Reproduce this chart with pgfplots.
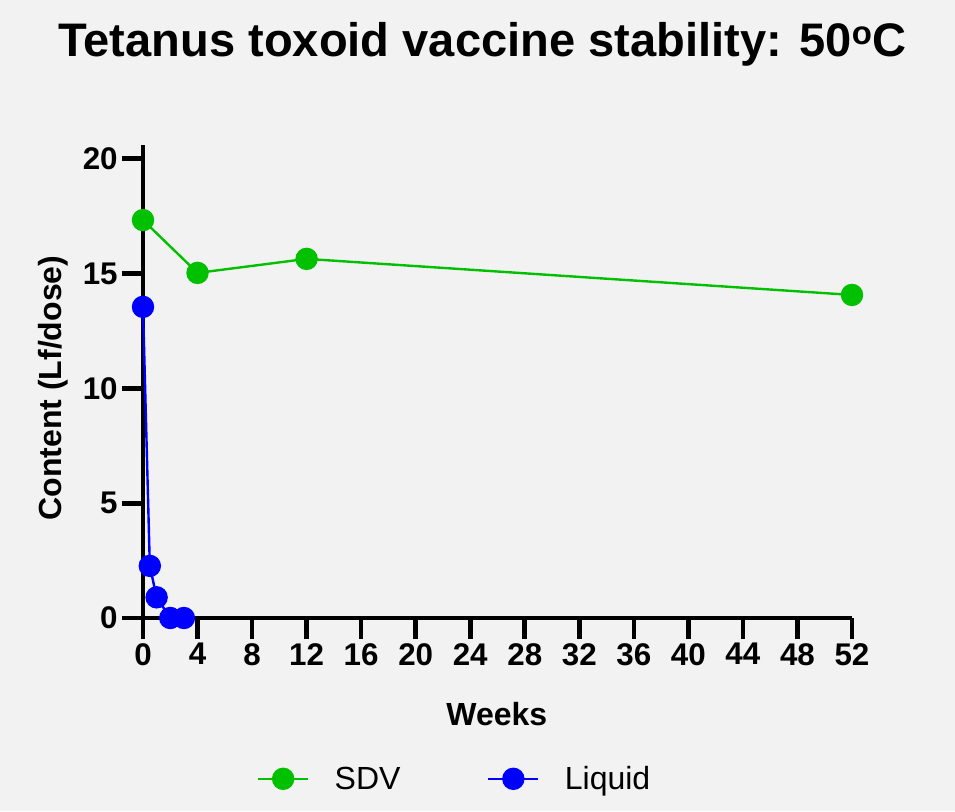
\documentclass[border=0pt]{standalone}
\usepackage{fontspec}
\setmainfont{Liberation Sans}
\usepackage{pgfplots}
\pgfplotsset{compat=1.18}
\definecolor{bgc}{HTML}{F2F2F2}
\definecolor{sdv}{HTML}{00C000}
\definecolor{liq}{HTML}{0000FF}
\begin{document}
\begin{tikzpicture}
% background, image 955x811 px at 0.75pt per px; axis origin at px (143,618)
\fill[bgc] (-107.25pt,-144.75pt) rectangle (609pt,463.5pt);
\begin{axis}[
  at={(0,0)}, anchor=south west,
  scale only axis, width=531.75pt, height=354.75pt,
  xmin=0, xmax=52, ymin=0, ymax=20.6,
  axis lines=left, axis line style={line width=3.5pt, -},
  xtick={0,4,...,52}, ytick={0,5,...,20},
  tick align=outside, major tick length=15.5pt,
  tick style={line width=3.5pt, black},
  /pgf/number format/assume math mode=true,
  tick label style={font=\bfseries\fontsize{23.5}{23.5}\selectfont},
  title={Tetanus toxoid vaccine stability: 50\textsuperscript{o}C},
  title style={at={(axis description cs:0.479,1.195)}, anchor=center,
    font=\bfseries\fontsize{35.3}{35.3}\selectfont},
  xlabel={Weeks},
  xlabel style={at={(axis description cs:0.499,-0.203)}, anchor=center,
    font=\bfseries\fontsize{24}{24}\selectfont},
  ylabel={Content (Lf/dose)},
  ylabel style={at={(axis description cs:-0.126,0.486)}, anchor=center,
    font=\bfseries\fontsize{24}{24}\selectfont},
  clip=false,
  legend columns=2,
  legend style={at={(axis description cs:0.44,-0.340)}, anchor=center,
    draw=none, fill=none, font=\fontsize{24}{24}\selectfont,
    /tikz/every even column/.append style={column sep=63pt}},
  legend image code/.code={
    \draw[mark repeat=2, mark phase=2] plot coordinates {(0pt,0pt) (18.75pt,0pt) (37.5pt,0pt)};},
]
\addplot[sdv, line width=1.8pt, mark=*, mark size=7.5pt, mark options={solid, fill=sdv, draw=sdv}]
  coordinates {(0,17.33) (4,15.03) (12,15.64) (52,14.07)};
\addlegendentry{\hspace{17pt}SDV}
\addplot[liq, line width=1.8pt, mark=*, mark size=7.5pt, mark options={solid, fill=liq, draw=liq}]
  coordinates {(0,13.55) (0.5,2.27) (1,0.9) (2,0) (3,0)};
\addlegendentry{\hspace{17pt}Liquid}
\end{axis}
\end{tikzpicture}
\end{document}
